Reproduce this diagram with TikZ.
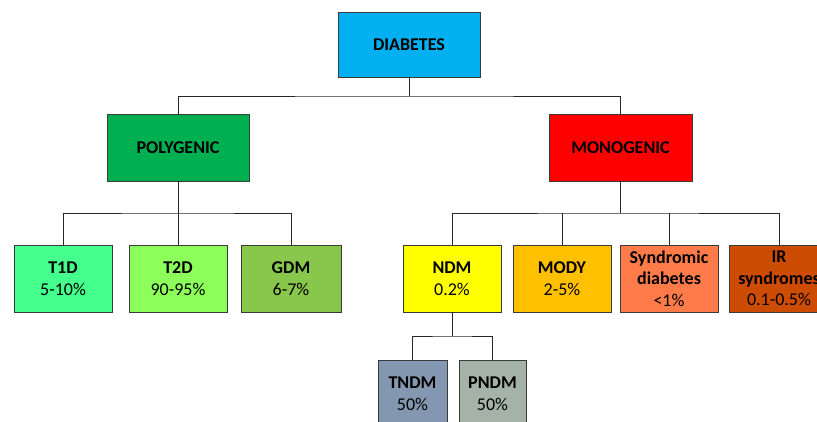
\documentclass[tikz,border=0pt]{standalone}
\usepackage{fontspec}
\setmainfont{Carlito}
\usepackage{xcolor}
\usepackage{tikz}
\usetikzlibrary{
    positioning,
    calc
}
\definecolor{diaBlue}{HTML}{00B0F0}
\definecolor{polyGreen}{HTML}{00B050}
\definecolor{monoRed}{HTML}{FF0000}
\definecolor{tOneGreen}{HTML}{45FF8C}
\definecolor{tTwoGreen}{HTML}{8CFF5A}
\definecolor{gdmGreen}{HTML}{88C64C}
\definecolor{ndmYellow}{HTML}{FFFF00}
\definecolor{modyOrange}{HTML}{FFC000}
\definecolor{syndOrange}{HTML}{FF7C4A}
\definecolor{irBrown}{HTML}{CC4C04}
\definecolor{tndmBlue}{HTML}{8497B0}
\definecolor{pndmGray}{HTML}{A4B2A8}
\definecolor{boxLine}{HTML}{3A3A3A}

\begin{document}
\begin{tikzpicture}[
    x=1pt, y=-1pt,
    node distance=12pt,
    block/.style={
        rectangle,
        draw=boxLine,
        line width=1pt,
        inner sep=0pt,
        outer sep=0pt,
        minimum width=98pt,
        minimum height=67pt,
        align=center,
        font=\fontsize{18}{21.5}\selectfont
    },
    head/.style={
        block,
        minimum width=142pt,
        minimum height=67pt,
        font=\fontsize{18}{21.5}\selectfont\bfseries
    },
    link/.style={draw=black!85,line width=1pt}
]
    \useasboundingbox (0,0) rectangle (817,421);

    % Nodes
    \node[head,fill=diaBlue,minimum height=65pt] (diabetes) at (409,44.5) {DIABETES};
    \node[head,fill=polyGreen] (poly) at (178,147.5) {POLYGENIC};
    \node[head,fill=monoRed,minimum width=143pt] (mono) at (620.5,147.5) {MONOGENIC};

    \node[block,fill=tOneGreen] (t1d) at (63,278.5) {\textbf{T1D}\\5-10\%};
    \node[block,fill=tTwoGreen,right=17pt of t1d] (t2d) {\textbf{T2D}\\90-95\%};
    \node[block,fill=gdmGreen,right=14pt of t2d,minimum width=100pt] (gdm) {\textbf{GDM}\\6-7\%};

    \node[block,fill=ndmYellow] (ndm) at (452,278.5) {\textbf{NDM}\\0.2\%};
    \node[block,fill=modyOrange,right=12pt of ndm] (mody) {\textbf{MODY}\\2-5\%};
    \node[block,fill=syndOrange,right=9pt of mody] (synd) {\textbf{Syndromic}\\\textbf{diabetes}\\<1\%};
    \node[block,fill=irBrown,right=11pt of synd,minimum width=100pt] (irs) {\textbf{IR}\\\textbf{syndromes}\\0.1-0.5\%};

    \node[block,fill=tndmBlue,minimum width=69pt] (tndm) at (412.5,393.5) {\textbf{TNDM}\\50\%};
    \node[block,fill=pndmGray,right=12pt of tndm,minimum width=67pt] (pndm) {\textbf{PNDM}\\50\%};

    % Connectors
    \draw[link] (diabetes.south) -- ++(0,19) coordinate (busTop);
    \draw[link] (poly.north) |- (busTop) -| (mono.north);

    \draw[link] (poly.south) -- ++(0,32) coordinate (busPoly);
    \draw[link] (t1d.north) |- (busPoly) -| (gdm.north);
    \draw[link] (t2d.north) -- (t2d.north |- busPoly);

    \draw[link] (mono.south) -- ++(0,32) coordinate (busMono);
    \draw[link] (ndm.north) |- (busMono) -| (irs.north);
    \draw[link] (mody.north) -- (mody.north |- busMono);
    \draw[link] (synd.north) -- (synd.north |- busMono);

    \draw[link] (ndm.south) -- ++(0,24) coordinate (busNdm);
    \draw[link] (tndm.north) |- (busNdm) -| (pndm.north);
\end{tikzpicture}
\end{document}
